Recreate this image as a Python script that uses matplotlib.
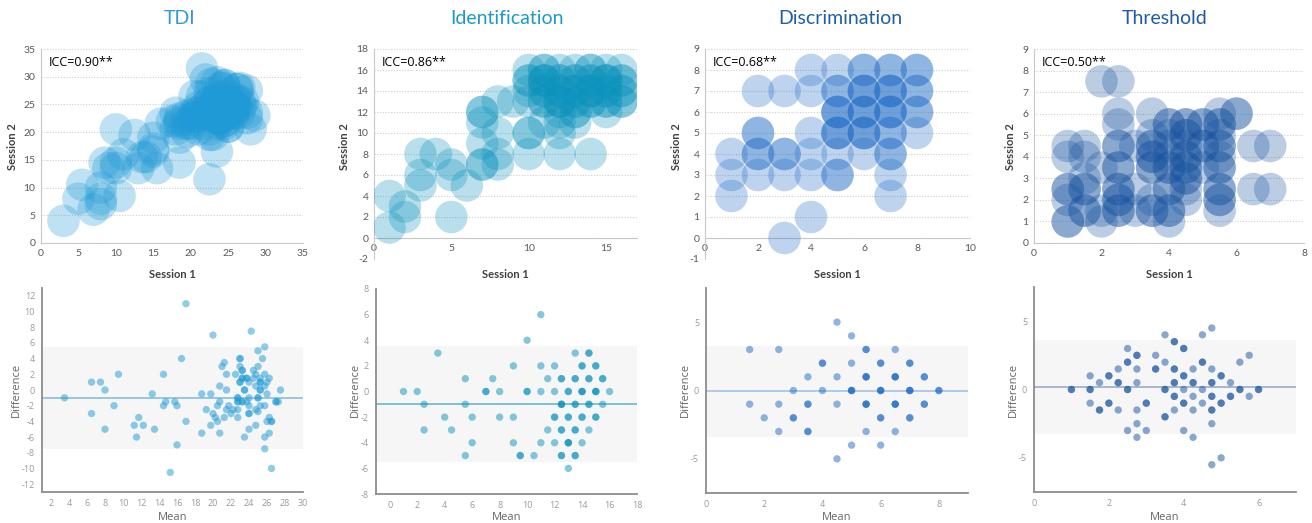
import numpy as np
import matplotlib.pyplot as plt

W, H = 1312, 523

# --- values: mean of sessions, difference (S1 - S2), count of coinciding subjects ---
tdi_mean = [3.5, 6.5, 6.5, 7.5, 8, 8, 9, 9.5, 11.25, 11.75, 11.5, 12.25, 13.25, 13.5, 14.5, 14.5, 14.75,
            15.25, 15.75, 16, 16, 16.5, 17, 17, 18.75, 18.75, 19.25, 19.75, 19.75, 20, 20, 20.25, 20.5, 20.5,
            20.75, 20.75, 20.75, 21, 21.25, 21.25, 21.5, 21.5, 21.75, 21.5, 22.25, 22, 22.5, 22.75, 22.75,
            22.75, 22.75, 23, 23, 23.25, 23.25, 23, 23.5, 23.75, 23.25, 23.5, 23.75, 24, 24, 24, 24, 24,
            24.25, 24.5, 24.5, 24.75, 24.75, 24.75, 24.75, 25, 25, 25, 25, 25.25, 25.25, 25.25, 25.25, 25.5,
            25.75, 25.75, 25.75, 25.75, 25.75, 25.75, 26, 26, 26, 26.25, 26.25, 26.25, 26.5, 26.5, 27, 27.25, 27.5]
tdi_diff = [-1, 1, -3, 1, 0, -5, -2, 2, -4.5, -3.5, -6, -4.5, -0.5, -5, 2, -2, -1.5,
            -10.5, -1.5, -2, -7, 4, -4, 11, -0.5, -5.5, -2.5, -0.5, -4.5, 7, -3, -3.5, -2, -4,
            -1.5, 0.5, -5.5, 3, 3.5, -3.5, 2, 0, -2, -2.5, -2.5, -3, 2, -3.5, -1.5,
            -2.5, -1, 4, 3, 2.5, 1.5, 1, 0, 1.5, -1.5, -6, -1.5, 1, -1, -2, -3, -5,
            7.5, 2.5, 1.5, 2, 0.5, -2.5, -4.5, -1, -2.75, 5, 3, 1, 0, 1.5, -2, 4,
            5.5, 2, 0.5, -2, -6, -7.5, 1, -0.5, -4, 1.5, -3.5, -5.5, -4, -10, -1.5, -1.5, 0]
tdi_n = [1] * 48 + [2, 1, 2, 2, 1, 2, 2, 2, 2, 2, 2] + [1] * 5 + [2] + [1] * 8 + [2] + [1] * 3 + [2, 2] + \
        [1] * 15 + [2, 1, 2, 1, 1]

id_mean = [1, 2, 2.5, 2.5, 3.5, 4, 4.5, 5.5, 5.5, 5.5, 6, 6, 7, 7.5, 8, 8, 9, 9, 9, 9.5,
           10, 10, 10.5, 11, 11, 11, 11, 11.5, 11.5, 12, 12, 12, 12, 12.5, 12.5, 12.5, 12.5, 13, 13, 13,
           13, 13.5, 13.5, 13.5, 13.5, 13.5, 14, 14, 14, 14, 14.5, 14.5, 14.5, 14.5, 15, 15, 15, 15.5, 15.5, 16]
id_diff = [0, 0, -1, -3, 3, -2, -3, 1, -1, -5, -2, -4, 0, 1, 0, -2, 2, -2, -4, -5,
           4, 0, -5, 6, 2, 0, -4, 1, -3, 2, 0, -2, -4, 1, -1, -3, -5, 0, -2, -4,
           -6, 3, 1, -1, -3, -5, 2, 0, -2, -4, 3, 1, -1, -3, 2, 0, -2, 1, -1, 0]
id_n = [1, 1, 1, 1, 1, 1, 1, 1, 1, 1, 1, 1, 2, 1, 1, 1, 1, 1, 1, 2,
        1, 2, 1, 1, 1, 1, 1, 1, 1, 1, 1, 2, 1, 2, 3, 2, 2, 2, 2, 3,
        1, 1, 2, 2, 2, 2, 2, 3, 2, 1, 2, 2, 2, 1, 2, 3, 2, 2, 1, 1]

disc_mean = [1.5, 1.5, 2, 2.5, 2.5, 2.5, 3, 3, 3.5, 3.5, 3.5, 4, 4, 4.5, 4.5, 4.5, 4.5, 5, 5, 5,
             5, 5.5, 5.5, 5.5, 5.5, 6, 6, 6, 6, 6.5, 6.5, 6.5, 6.5, 7, 7, 7, 7.5, 7.5, 8]
disc_diff = [3, -1, -2, 3, -1, -3, 0, -2, 1, -1, -3, 2, 0, 5, 1, -1, -5, 4, 2, 0,
             -4, 3, 1, -1, -3, 2, 0, -2, -4, 3, 1, -1, -3, 2, 0, -2, 1, -1, 0]
disc_n = [1, 1, 1, 1, 1, 1, 1, 2, 1, 2, 2, 2, 1, 1, 1, 1, 1, 1, 1, 3,
          1, 2, 3, 3, 1, 2, 3, 2, 1, 1, 3, 3, 1, 2, 3, 2, 2, 2, 2]

th_mean = [1, 1.5, 1.5, 1.5, 1.75, 1.75, 2, 2, 2.25, 2.25, 2.25, 2.5, 2.5, 2.5, 2.5,
           2.75, 2.75, 2.75, 2.75, 2.75, 2.75, 3, 3, 3.25, 3.25, 3.5, 3.5, 3.5, 3.5,
           3.75, 3.75, 3.75, 3.75, 3.75, 4, 4, 4, 4, 4, 4.25, 4.25, 4.25, 4.25, 4.25,
           4.5, 4.5, 4.5, 4.5, 4.75, 4.75, 4.75, 4.75, 4.75, 4.75, 4.75, 5, 5, 5,
           5.25, 5.25, 5.5, 5.5, 5.75, 5.75, 6]
th_diff = [0, 1, 0, -1, 0.5, -1.5, 1, -1, 1.5, 0.5, -1.5, 3, 2, 0, -3,
           2.5, 1.5, 0.5, -1.5, -2.5, -3.5, -1, -3, 2.5, 1.5, 4, 2, 0, -2,
           3.5, 1.5, 0.5, -0.5, -1.5, 3, 1, 0, -1, -3, 1.5, 0.5, -0.5, -1.5, -3.5,
           4, 2, 0, -1, 4.5, 1.5, 0.5, -0.5, -1.5, -2.5, -5.5, 1, -1, -5,
           0.5, -0.5, 2, 0, 2.5, -0.5, 0]
th_n = [2, 1, 2, 1, 1, 2, 2, 2, 1, 2, 1, 1, 2, 2, 1,
        2, 1, 1, 1, 1, 1, 2, 1, 1, 2, 1, 1, 2, 2,
        2, 2, 2, 2, 1, 2, 2, 1, 2, 1, 1, 2, 1, 1, 1,
        1, 2, 1, 1, 1, 1, 2, 2, 2, 1, 1, 2, 2, 1,
        1, 2, 1, 2, 1, 1, 2]

titles = ["TDI", "Identification", "Discrimination", "Threshold"]
icc_labels = ["ICC=0.90**", "ICC=0.86**", "ICC=0.68**", "ICC=0.50**"]
# bias line and limits of agreement (lower, upper) as drawn
bias = [-1.0, -1.0, -0.04, 0.17]
loa = [(-7.5, 5.5), (-5.5, 3.55), (-3.37, 3.28), (-3.26, 3.6)]

# --- styling ---
colors = ["#1f9ad6", "#0b93bd", "#1f6bc6", "#17539f"]
title_colors = ["#2e9bd6", "#1d9ac4", "#1f5fa8", "#1f5ba5"]
line_colors = ["#7cbadf", "#5fb2cc", "#9bbde6", "#8fa7c8"]

top_boxes = [(41, 49, 303, 243), (374, 49, 637, 259), (705, 49, 970, 259), (1034, 49, 1304, 243)]
bot_boxes = [(42, 288, 303, 492), (376, 289, 637, 494), (706, 288, 968, 493), (1034, 287, 1296, 492)]
top_lims = [((0, 35), (0, 35)), ((0, 17), (-2, 18)), ((0, 10), (-1, 9)), ((0, 8), (0, 9))]
top_ticks = [(np.arange(0, 36, 5), np.arange(0, 36, 5)), ([0, 5, 10, 15], np.arange(-2, 19, 2)),
             (np.arange(0, 11, 2), np.arange(-1, 10, 1)), (np.arange(0, 9, 2), np.arange(0, 10, 1))]
bot_lims = [((1, 30), (-13, 13)), ((-1, 18), (-8, 8)), ((0, 9), (-7.5, 7.5)), ((0, 7), (-7.5, 7.5))]
bot_ticks = [(np.arange(2, 31, 2), np.arange(-12, 13, 2)), (np.arange(0, 19, 2), np.arange(-8, 9, 2)),
             (np.arange(0, 9, 2), [-5, 0, 5]), ([0, 2, 4, 6], [-5, 0, 5])]
ylab_x_top = [13, 345, 677, 1010]
ylab_x_bot = [16, 355, 685, 1013]
title_x = [180, 507, 840, 1165]

plt.rcParams['font.family'] = ['Lato', 'DejaVu Sans']
plt.rcParams['axes.unicode_minus'] = False


def box(l, t, r, b):
    return [l / W, 1 - b / H, (r - l) / W, (b - t) / H]


fig = plt.figure(figsize=(W / 100, H / 100), dpi=100)

data = [(tdi_mean, tdi_diff, tdi_n), (id_mean, id_diff, id_n),
        (disc_mean, disc_diff, disc_n), (th_mean, th_diff, th_n)]

for i, (m, d, n) in enumerate(data):
    m = np.repeat(np.array(m, float), n)
    d = np.repeat(np.array(d, float), n)
    s1 = m + d / 2
    s2 = m - d / 2

    # top: session 1 vs session 2 bubbles
    ax = fig.add_axes(box(*top_boxes[i]))
    ax.scatter(s1, s2, s=550, color=colors[i], alpha=0.29, edgecolors='none', zorder=3)
    ax.set_xlim(top_lims[i][0])
    ax.set_ylim(top_lims[i][1])
    ax.set_xticks(top_ticks[i][0])
    ax.set_yticks(top_ticks[i][1])
    ax.grid(axis='y', ls=(0, (1, 1.5)), color='#cfcfcf', lw=0.8)
    ax.set_axisbelow(True)
    for s in ['top', 'right']:
        ax.spines[s].set_visible(False)
    ax.spines['bottom'].set_position(('data', 0))
    ax.spines['left'].set_color('#c8c8c8')
    ax.spines['bottom'].set_color('#c8c8c8')
    ax.tick_params(length=0, labelsize=7.5, labelcolor='#595959', pad=4)
    l, t, r, b = top_boxes[i]
    fig.text((l + 8) / W, 1 - 62 / H, icc_labels[i], fontsize=9, color='black', va='center', ha='left',
             family=['Open Sans', 'DejaVu Sans'])
    fig.text(title_x[i] / W, 1 - 18 / H, titles[i], fontsize=14, color=title_colors[i],
             ha='center', va='center')
    fig.text((l + r) / 2 / W, 1 - 274 / H, "Session 1", fontsize=8, fontweight='bold',
             color='#404040', ha='center', va='center')
    fig.text(ylab_x_top[i] / W, 1 - 147 / H, "Session 2", fontsize=8, fontweight='bold',
             color='#404040', ha='center', va='center', rotation=90)

    # bottom: Bland-Altman
    bx = fig.add_axes(box(*bot_boxes[i]))
    bx.axhspan(loa[i][0], loa[i][1], color='#f6f6f6', lw=0, zorder=0)
    bx.axhline(bias[i], color=line_colors[i], lw=1.1, zorder=2)
    bx.scatter(m, d, s=28, color=colors[i], alpha=0.5, edgecolors='none', zorder=3)
    bx.set_xlim(bot_lims[i][0])
    bx.set_ylim(bot_lims[i][1])
    bx.set_xticks(bot_ticks[i][0])
    bx.set_yticks(bot_ticks[i][1])
    for s in ['top', 'right']:
        bx.spines[s].set_visible(False)
    for s in ['left', 'bottom']:
        bx.spines[s].set_color('#8c8c8c')
        bx.spines[s].set_linewidth(1.3)
    bx.tick_params(length=0, labelsize=6.5, labelcolor='#9a9a9a', pad=5)
    for lab in bx.get_xticklabels() + bx.get_yticklabels():
        lab.set_family(['Open Sans', 'DejaVu Sans'])
    l, t, r, b = bot_boxes[i]
    fig.text((l + r) / 2 / W, 1 - 517 / H, "Mean", fontsize=8, color='#666666',
             ha='center', va='center', family=['Open Sans', 'DejaVu Sans'])
    fig.text(ylab_x_bot[i] / W, 1 - 390 / H, "Difference", fontsize=8, color='#666666',
             ha='center', va='center', rotation=90, family=['Open Sans', 'DejaVu Sans'])

fig.savefig("out.png", dpi=100)
